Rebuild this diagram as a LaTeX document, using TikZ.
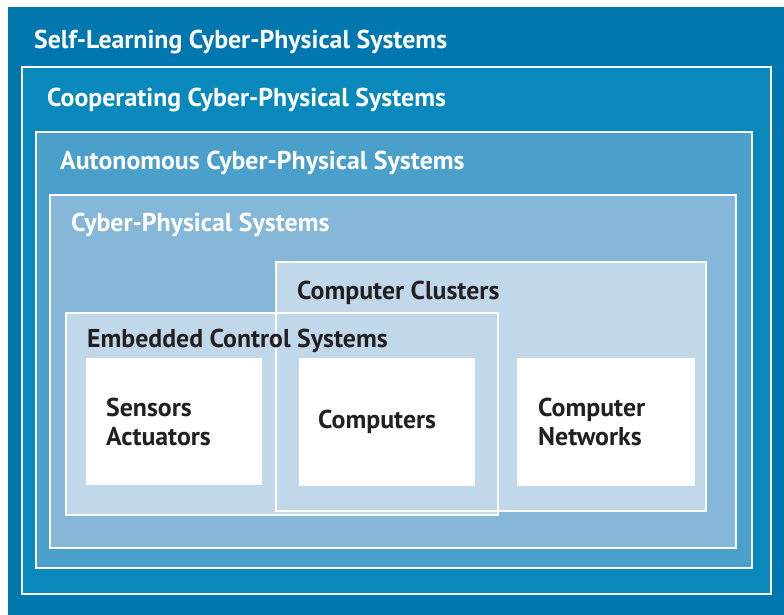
\documentclass[tikz,border=0pt]{standalone}
\usepackage{fontspec}
\setmainfont{PT Sans}
\definecolor{c1}{HTML}{0077AE}
\definecolor{c2}{HTML}{0888BB}
\definecolor{c3}{HTML}{4A9FCB}
\definecolor{c4}{HTML}{85B8D8}
\definecolor{c5}{HTML}{C0D8EA}
\definecolor{txt}{HTML}{231F20}
\begin{document}
\begin{tikzpicture}[x=1pt,y=-1pt,
  frame/.style={draw=white,line width=2pt},
  ttl/.style={anchor=base west,inner sep=0pt,font=\fontsize{25.8}{29}\selectfont\bfseries,text=white},
  dtl/.style={anchor=base west,inner sep=0pt,font=\fontsize{25.8}{29}\selectfont\bfseries,text=txt,align=left},
  wbox/.style={fill=white,draw=none}]
\useasboundingbox (0,0) rectangle (784,615);
\fill[white] (0,0) rectangle (784,615);
\fill[c1] (8,7) rectangle (784,615);
\path[fill=c2,frame] (22,67) rectangle (771,594);
\path[fill=c3,frame] (36,132) rectangle (752,568);
\path[fill=c4,frame] (50,195) rectangle (736,548);
\fill[c5] (276,262) rectangle (706,511);
\fill[c5] (66,313) rectangle (498,515);
\draw[frame] (276,262) rectangle (706,511);
\draw[frame] (66,313) rectangle (498,515);
\fill[wbox] (86,358) rectangle (262,485);
\fill[wbox] (299,358) rectangle (475,486);
\fill[wbox] (517,358) rectangle (695,486);
\node[ttl] (t1) at (34,49) {Self-Learning Cyber-Physical Systems};
\node[ttl] (t2) at (47,107) {Cooperating Cyber-Physical Systems};
\node[ttl] (t3) at (60,169) {Autonomous Cyber-Physical Systems};
\node[ttl] (t4) at (71,231) {Cyber-Physical Systems};
\node[dtl] (t5) at (297,299) {Computer Clusters};
\node[dtl] (t6) at (87,347) {Embedded Control Systems};
\node[dtl,anchor=west] (t7) at (106,422) {Sensors\\Actuators};
\node[dtl] (t8) at (318,428) {Computers};
\node[dtl,anchor=west] (t9) at (538,422) {Computer\\Networks};
\end{tikzpicture}
\end{document}
